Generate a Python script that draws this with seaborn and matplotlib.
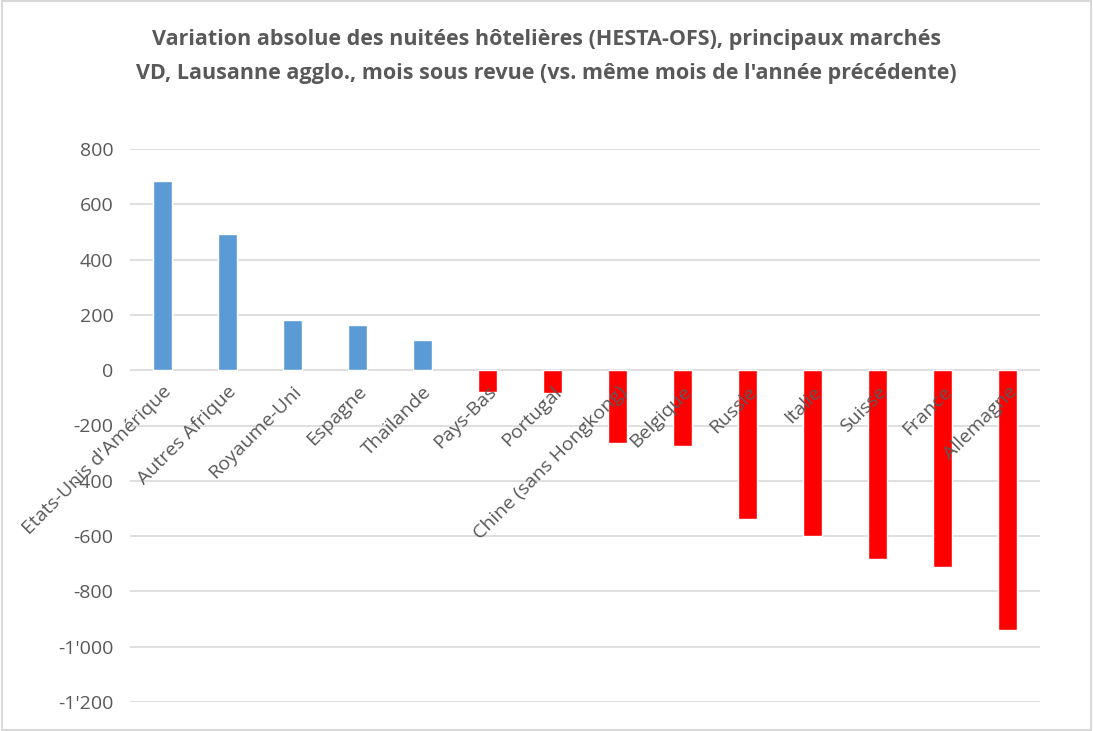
import numpy as np
import pandas as pd
import matplotlib
matplotlib.use("Agg")
import matplotlib.pyplot as plt
import seaborn as sns
from matplotlib.patches import Rectangle

# Data
markets = ["Etats-Unis d'Amérique", "Autres Afrique", "Royaume-Uni", "Espagne",
           "Thaïlande", "Pays-Bas", "Portugal", "Chine (sans Hongkong)",
           "Belgique", "Russie", "Italie", "Suisse", "France", "Allemagne"]
variation = [686, 493, 182, 164, 110, -80, -84, -264, -275, -537, -601, -684, -712, -940]
y_ticks = [800, 600, 400, 200, 0, -200, -400, -600, -800, -1000, -1200]

df = pd.DataFrame({"marche": markets, "variation": variation})
df["signe"] = np.where(df["variation"] >= 0, "pos", "neg")

sns.set_style("white")
plt.rcParams['font.family'] = ['Open Sans', 'DejaVu Sans']
grey = "#595959"

fig = plt.figure(figsize=(10.93, 7.31), dpi=100)
ax = fig.add_axes([130 / 1093, 1 - 702 / 731, (1040 - 130) / 1093, (702 - 149) / 731])

sns.barplot(data=df, x="marche", y="variation", hue="signe",
            palette={"pos": "#5B9BD5", "neg": "#FF0000"}, saturation=1,
            dodge=False, width=0.3, legend=False, ax=ax)

ax.set_ylim(-1200, 800)
ax.set_xlim(-0.5, len(markets) - 0.5)
ax.set_yticks(y_ticks)
ax.set_yticklabels([f"{v:,}".replace(",", "'") for v in y_ticks], color=grey, fontsize=14)
ax.yaxis.grid(True, color="#D9D9D9", linewidth=1.2)
ax.set_axisbelow(True)
for s in ax.spines.values():
    s.set_visible(False)
ax.tick_params(axis="y", length=0, pad=12)

# category labels sit on the zero line, drawn over the bars
ax.spines["bottom"].set_position(("data", 0))
ax.xaxis.set_zorder(5)
ax.tick_params(axis="x", length=0, pad=9)
ax.set_xticks(range(len(markets)))
ax.set_xticklabels(markets, rotation=45, ha="right", va="top",
                   rotation_mode="anchor", color=grey, fontsize=14)
ax.set_xlabel("")
ax.set_ylabel("")

fig.text(0.5, 1 - 39 / 731,
         "Variation absolue des nuitées hôtelières (HESTA-OFS), principaux marchés",
         ha="center", va="center", fontsize=15.5, fontweight="bold", color=grey)
fig.text(0.5, 1 - 73 / 731,
         "VD, Lausanne agglo., mois sous revue (vs. même mois de l'année précédente)",
         ha="center", va="center", fontsize=15.5, fontweight="bold", color=grey)

fig.patches.append(Rectangle((0.002, 0.002), 0.996, 0.996, transform=fig.transFigure,
                             fill=False, edgecolor="#D9D9D9", linewidth=1.5))

fig.savefig("out.png", dpi=100)
